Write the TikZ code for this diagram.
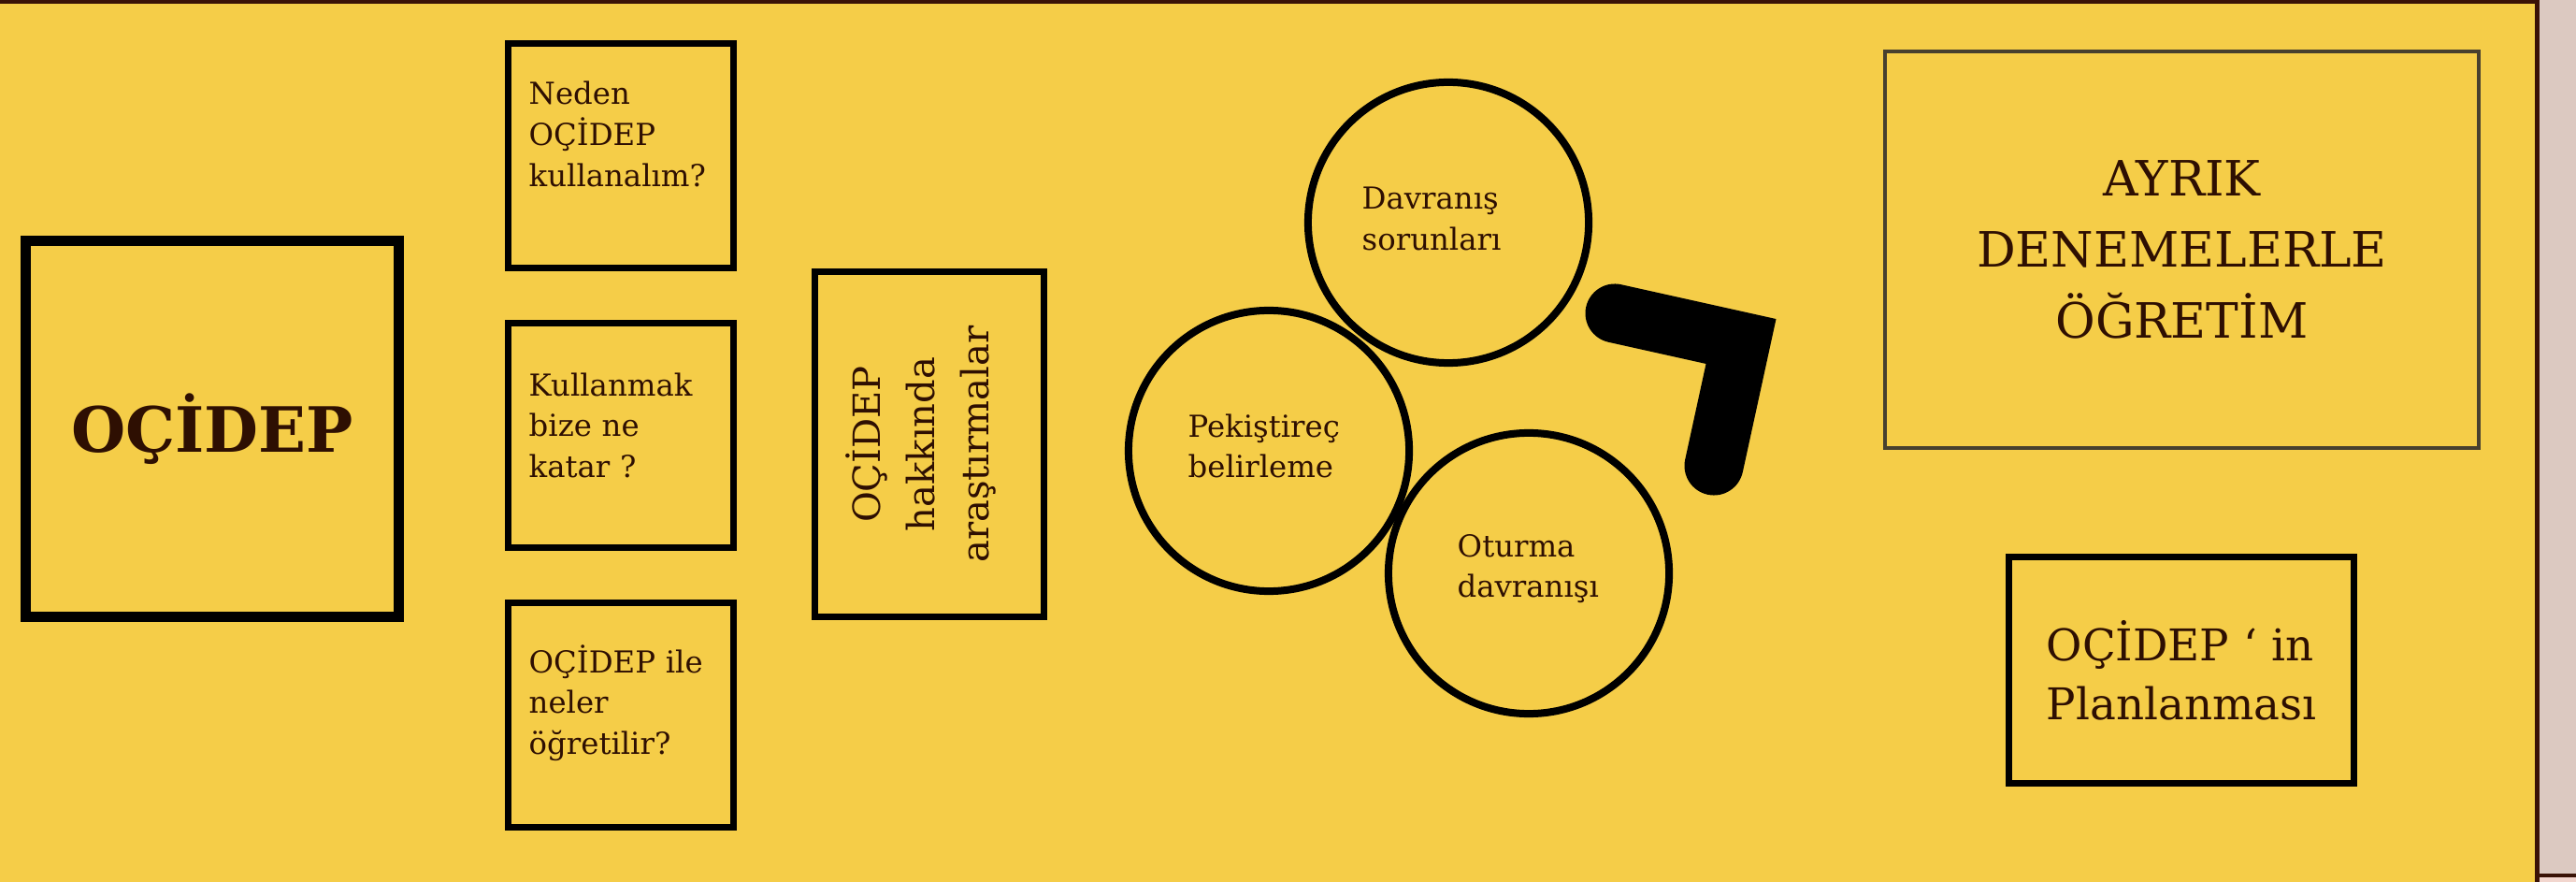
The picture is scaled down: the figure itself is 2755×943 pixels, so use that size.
\documentclass[tikz,border=0pt]{standalone}
\usepackage{fontspec}
\setmainfont{DejaVu Serif}

\definecolor{panelyellow}{HTML}{F5CD48}
\definecolor{pagegrey}{HTML}{DCC9C1}
\definecolor{framebrown}{HTML}{3A1206}
\definecolor{nextpink}{HTML}{F2D6CE}
\definecolor{inkbrown}{HTML}{2E0F02}
\definecolor{boxgrey}{HTML}{47402F}

\begin{document}
\begin{tikzpicture}[x=0.01cm, y=-0.01cm,
    qbox/.style={draw=black, line width=0.07cm, minimum width=2.41cm, minimum height=2.39cm, inner sep=0pt},
    qtext/.style={text=inkbrown, text width=2.3cm, align=left, inner sep=0pt, font=\fontsize{9.2}{12.5}\selectfont},
    ring/.style={circle, draw=black, line width=0.08cm, minimum size=3cm, inner sep=0pt}]

    % Page and the yellow panel
    \useasboundingbox (0,0) rectangle (2755,943);
    \fill[pagegrey] (0,0) rectangle (2755,943);
    \fill[panelyellow] (0,0) rectangle (2713,943);
    \draw[framebrown, line width=0.045cm] (0,2) -- (2713.5,2) -- (2713.5,943);

    % Corner of the next frame, bottom right
    \fill[framebrown] (2713,934) rectangle (2755,937.5);
    \fill[nextpink] (2716,937.5) rectangle (2755,943);

    % Main title box
    \node[draw=black, line width=0.11cm, minimum width=3.99cm, minimum height=4.02cm,
          text=inkbrown, font=\fontsize{19}{23}\selectfont\bfseries] (ocidep) at (227,458.5) {OÇİDEP};

    % Three question boxes
    \node[qbox] (why) at (664,166.5) {};
    \node[qbox] (gain) at (664,465.5) {};
    \node[qbox] (teach) at (664,764.5) {};

    % Their texts sit high and to the left
    \node[qtext, anchor=base west] (whytext) at (565,112) {Neden\\OÇİDEP\\kullanalım?};
    \node[qtext, anchor=base west] (gaintext) at (565,423) {Kullanmak\\bize ne\\katar ?};
    \node[qtext, anchor=base west] (teachtext) at (565,719) {OÇİDEP ile\\neler\\öğretilir?};

    % Research box, its text turned on its side
    \node[draw=black, line width=0.07cm, minimum width=2.45cm, minimum height=3.69cm] (research) at (994,475) {};
    \node[rotate=90, align=center, inner sep=0pt, text=inkbrown,
          font=\fontsize{11.4}{16.4}\selectfont] (researchtext) at (985,475) {OÇİDEP\\hakkında\\araştırmalar};

    % The three circles
    \node[ring] (problems) at (1549,238) {};
    \node[ring] (reinforcer) at (1357,482) {};
    \node[ring] (sitting) at (1635,613) {};

    % Circle texts, left aligned
    \node[qtext, text width=1.8cm, anchor=base west] (problemstext) at (1456,224) {Davranış\\sorunları};
    \node[qtext, text width=1.8cm, anchor=base west] (reinforcertext) at (1270,467) {Pekiştireç\\belirleme};
    \node[qtext, text width=1.8cm, anchor=base west] (sittingtext) at (1558,595) {Oturma\\davranışı};

    % Thick black hook right of the circles
    \coordinate (hookstart) at (1727,335);
    \coordinate (hookbend) at (1862,365);
    \coordinate (hookend) at (1833,498);
    \draw[black, line width=0.63cm, line cap=round] (hookstart) -- (hookbend) -- (hookend);

    % Boxes on the right
    \node[draw=boxgrey, line width=0.04cm, minimum width=6.35cm, minimum height=4.24cm,
          align=center, text=inkbrown, font=\fontsize{14.8}{21.6}\selectfont] (trials) at (2333.5,267) {AYRIK\\DENEMELERLE\\ÖĞRETİM};
    \node[draw=black, line width=0.07cm, minimum width=3.69cm, minimum height=2.42cm,
          align=left, text=inkbrown, font=\fontsize{13.3}{17.9}\selectfont] (planning) at (2333,716.5) {OÇİDEP ‘ in\\Planlanması};

\end{tikzpicture}
\end{document}
